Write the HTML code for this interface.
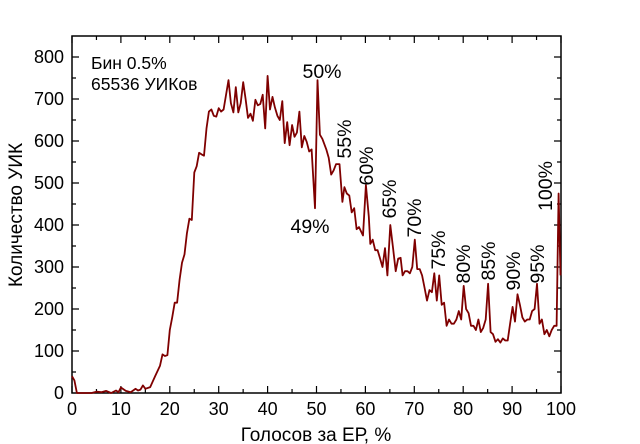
<!DOCTYPE html>
<html><head><meta charset="utf-8"><style>html,body{margin:0;padding:0;background:#fff}svg{display:block}</style></head><body>
<svg width="640" height="444" xmlns="http://www.w3.org/2000/svg" font-family="Liberation Sans, sans-serif">
<rect x="0" y="0" width="640" height="444" fill="#fff"/>
<g stroke="#000" stroke-width="1.2">
<path d="M72,393v-7M120.9,393v-7M169.8,393v-7M218.7,393v-7M267.6,393v-7M316.5,393v-7M365.4,393v-7M414.3,393v-7M463.2,393v-7M512.1,393v-7M561,393v-7
M96.45,393v-4M145.35,393v-4M194.25,393v-4M243.15,393v-4M292.05,393v-4M340.95,393v-4M389.85,393v-4M438.75,393v-4M487.65,393v-4M536.55,393v-4
M72,36v7M120.9,36v7M169.8,36v7M218.7,36v7M267.6,36v7M316.5,36v7M365.4,36v7M414.3,36v7M463.2,36v7M512.1,36v7M561,36v7
M96.45,36v4M145.35,36v4M194.25,36v4M243.15,36v4M292.05,36v4M340.95,36v4M389.85,36v4M438.75,36v4M487.65,36v4M536.55,36v4
M72,351h7M72,309h7M72,267h7M72,225h7M72,183h7M72,141h7M72,99h7M72,57h7
M72,372h4M72,330h4M72,288h4M72,246h4M72,204h4M72,162h4M72,120h4M72,78h4
M561,351h-7M561,309h-7M561,267h-7M561,225h-7M561,183h-7M561,141h-7M561,99h-7M561,57h-7
M561,372h-4M561,330h-4M561,288h-4M561,246h-4M561,204h-4M561,162h-4M561,120h-4M561,78h-4"/>
</g>
<rect x="72" y="36" width="489" height="357" fill="none" stroke="#000" stroke-width="1.5"/>
<polyline fill="none" stroke="#7f0000" stroke-width="1.8" stroke-linejoin="round" points="72,376.2 74.4,380.4 76.9,393 91.6,393 96.5,391.7 101.3,392.2 106.2,390.9 111.1,393 116,390.5 118.5,392.2 120.9,387.5 125.8,390.9 130.7,392.2 135.6,388.8 138,390.5 140.5,389.6 142.9,385.4 145.4,388.8 150.2,387.1 155.1,376.2 160,365.7 162.5,354.4 164.9,356 167.4,355.2 169.8,330 172.2,317.4 174.7,302.7 177.1,302.7 179.6,279.6 182,262.8 184.5,254.4 186.9,233.4 189.4,218.7 191.8,220 194.3,172.5 196.7,166.2 199.1,152.8 201.6,154.4 204,155.7 206.5,128.4 208.9,111.6 211.4,109.5 213.8,115.8 216.3,116.6 218.7,108.2 221.1,111.6 223.6,109.5 228.5,80.1 230.9,103.2 233.4,112.4 235.8,87.2 238.3,112.4 240.7,103.2 243.2,82.2 245.6,99 248,117.9 250.5,113.7 252.9,120.8 255.4,99.8 257.8,105.3 260.3,104 262.7,94.8 265.2,128.4 267.6,75.9 270,109.5 272.5,96.9 274.9,107.4 277.4,115.8 279.8,120 282.3,101.1 284.7,143.1 287.2,122.1 289.6,145.2 292.1,125 294.5,136.8 296.9,132.6 299.4,111.6 301.8,147.3 304.3,136 306.7,141.8 309.2,151.5 311.6,149.4 315,208.2 317.5,80.1 319.9,134.7 322.4,138.9 326.3,149.4 328.7,157.8 331.2,174.6 333.6,170.4 336.1,164.1 339.5,164.1 342.4,201.9 344.4,187.2 346.8,193.5 349.3,195.6 351.7,212.4 354.2,208.2 356.6,229.2 359,227.1 363,235.5 365.9,185.1 368.8,216.6 370.3,243.9 372.7,239.7 375.2,250.2 377.6,250.2 380.1,258.6 382.5,267 385,248.1 387.4,275.4 390.3,225 393.3,250.2 395.7,271.2 398.2,258.6 400.6,257.8 402.6,275.4 405,271.2 407.5,271.2 409.9,273.3 412.3,267 414.8,239.7 417.2,269.1 419.7,269.1 422.1,275.4 424.6,288 427,300.6 429.5,290.1 431.9,292.2 434.3,273.3 436.8,300.6 439.2,275.4 441.7,304.8 444.1,302.7 446.6,325.8 449,319.5 451.5,323.7 453.9,323.7 456.4,319.5 458.8,311.1 461.2,319.5 463.7,285.9 466.1,309 468.6,313.2 471,325.8 473.5,325.8 475.9,330 478.4,319.5 480.8,332.1 483.2,327.9 485.7,319.5 488.1,283.8 490.6,332.1 493,334.2 495.5,341.8 497.9,339.2 500.4,342.6 502.8,338.4 505.3,340.5 507.7,340.5 510.1,323.7 512.6,306.9 515,321.6 517.5,294.3 519.9,304.8 522.4,317.4 524.8,321.6 527.3,319.5 529.7,319.5 532.1,311.1 534.6,309 537,283.8 539.5,323.7 541.9,319.5 544.4,334.2 546.8,330 549.3,336.3 551.7,330 554.2,325.8 556.6,325.8 558.6,193.5 560.5,275.4"/>
<g font-size="18" text-anchor="end">
<text x="64" y="399">0</text><text x="64" y="357">100</text><text x="64" y="315">200</text><text x="64" y="273">300</text><text x="64" y="231">400</text><text x="64" y="189">500</text><text x="64" y="147">600</text><text x="64" y="105">700</text><text x="64" y="63">800</text>
</g>
<g font-size="18" text-anchor="middle">
<text x="72" y="415">0</text><text x="120.9" y="415">10</text><text x="169.8" y="415">20</text><text x="218.7" y="415">30</text><text x="267.6" y="415">40</text><text x="316.5" y="415">50</text><text x="365.4" y="415">60</text><text x="414.3" y="415">70</text><text x="463.2" y="415">80</text><text x="512.1" y="415">90</text><text x="561" y="415">100</text>
</g>
<text x="316" y="441" font-size="19" text-anchor="middle">Голосов за ЕР, %</text>
<text transform="translate(22,215) rotate(-90)" font-size="19" text-anchor="middle">Количество УИК</text>
<text x="91" y="69" font-size="17.5">Бин 0.5%</text>
<text x="91" y="90" font-size="17.5">65536 УИКов</text>
<g font-size="19.5" text-anchor="middle">
<text x="322" y="78">50%</text>
<text x="310" y="233">49%</text>
<text transform="translate(351,139) rotate(-90)">55%</text>
<text transform="translate(373,166) rotate(-90)">60%</text>
<text transform="translate(396,199) rotate(-90)">65%</text>
<text transform="translate(421,218) rotate(-90)">70%</text>
<text transform="translate(445,250) rotate(-90)">75%</text>
<text transform="translate(470,264) rotate(-90)">80%</text>
<text transform="translate(495,261) rotate(-90)">85%</text>
<text transform="translate(520,271) rotate(-90)">90%</text>
<text transform="translate(544,264) rotate(-90)">95%</text>
<text transform="translate(552,186) rotate(-90)">100%</text>
</g>
</svg>
</body></html>
